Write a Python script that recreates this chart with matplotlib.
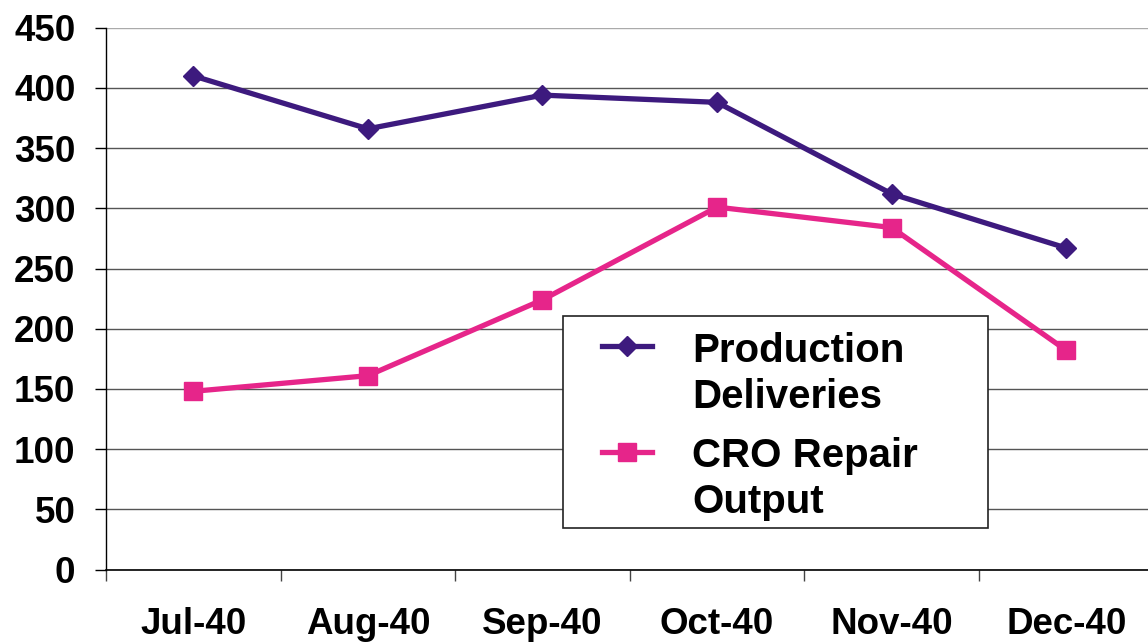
import matplotlib
matplotlib.use("Agg")
import matplotlib.pyplot as plt
from matplotlib.lines import Line2D
from matplotlib.patches import Rectangle
import numpy as np

plt.rcParams['font.family'] = ['Liberation Sans', 'DejaVu Sans']
plt.rcParams['font.weight'] = 'bold'

months = ["Jul-40", "Aug-40", "Sep-40", "Oct-40", "Nov-40", "Dec-40"]
production = [410, 366, 394, 388, 312, 267]
cro_repair = [148, 161, 224, 301, 284, 182]
series_names = ["Production\nDeliveries", "CRO Repair\nOutput"]
y_ticks = [0, 50, 100, 150, 200, 250, 300, 350, 400, 450]

purple = "#3D1A7E"
pink = "#E6258A"

W, H = 1148, 643
fig = plt.figure(figsize=(W / 100, H / 100), dpi=100)
left = 106 / W
right = 1153.6 / W
bottom = 1 - 569.5 / H
top = 1 - 27.7 / H
ax = fig.add_axes([left, bottom, right - left, top - bottom])

x = np.arange(len(months))
ax.plot(x, production, color=purple, lw=3.8, marker='D', ms=10, zorder=3)
ax.plot(x, cro_repair, color=pink, lw=3.8, marker='s', ms=13, zorder=3)

ax.set_xlim(-0.5, len(months) - 0.5)
ax.set_ylim(0, 450)
ax.set_yticks(y_ticks)
ax.set_yticklabels([str(v) for v in y_ticks], fontsize=26.5, fontweight='bold')
ax.tick_params(axis='y', length=8, width=1, pad=14, color='black')

ax.set_xticks(np.arange(len(months) + 1) - 0.5)
ax.set_xticklabels([])
ax.set_xticks(x, minor=True)
ax.set_xticklabels(months, minor=True, fontsize=26.5, fontweight='bold')
ax.tick_params(axis='x', which='major', length=8, width=1, color='#444444')
ax.tick_params(axis='x', which='minor', length=0, pad=27)

ax.grid(axis='y', color='#555555', lw=1)
ax.get_ygridlines()[-1].set_color('#aaaaaa')
ax.set_axisbelow(True)
for s in ['top', 'right']:
    ax.spines[s].set_visible(False)
ax.spines['left'].set_linewidth(1)
ax.spines['bottom'].set_linewidth(1.2)

# manual legend
def fx(px):
    return px / W

def fy(py):
    return 1 - py / H

fig.patches.append(Rectangle((fx(563), fy(528)), fx(988) - fx(563), fy(316) - fy(528),
                             transform=fig.transFigure, facecolor='white',
                             edgecolor='#222222', lw=1.2, zorder=5))
handles = [(purple, 'D', 10, 346, 362), (pink, 's', 13, 452, 467)]
for (c, m, ms, hy, by), name in zip(handles, series_names):
    fig.add_artist(Line2D([fx(602), fx(652)], [fy(hy), fy(hy)], color=c, lw=3.8,
                          transform=fig.transFigure, zorder=6))
    fig.add_artist(Line2D([fx(627)], [fy(hy)], color=c, marker=m, ms=ms,
                          transform=fig.transFigure, zorder=7))
    for i, line in enumerate(name.split("\n")):
        fig.text(fx(692), fy(by + 46 * i), line, fontsize=29, fontweight='bold',
                 va='baseline', ha='left', zorder=8)

fig.savefig("out.png", dpi=100)
